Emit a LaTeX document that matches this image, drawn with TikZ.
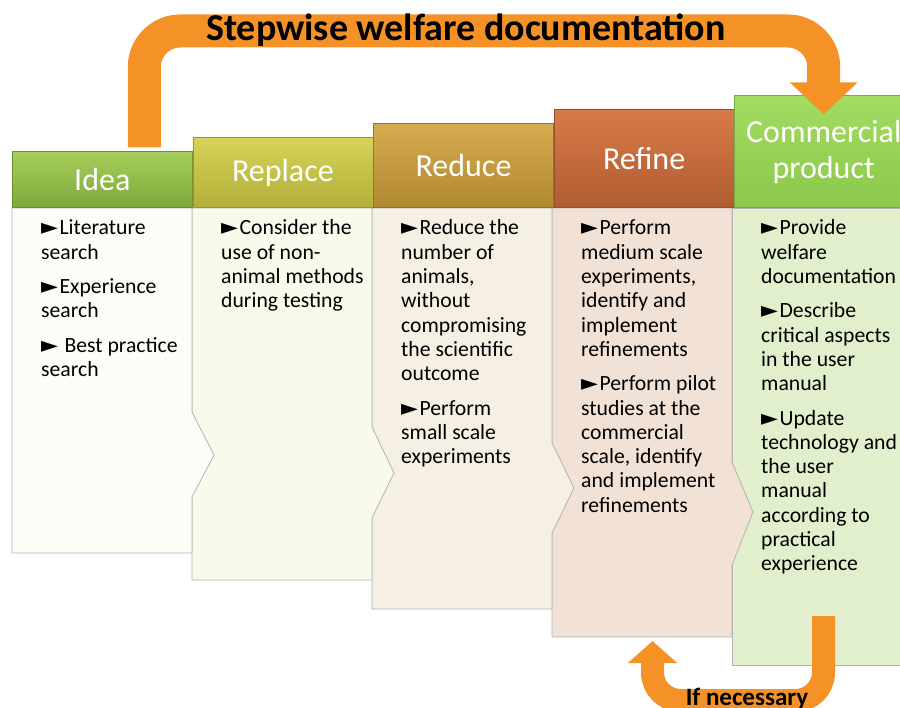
\documentclass[tikz,border=0pt]{standalone}
\usepackage{fontspec}
\setmainfont{Carlito}
\newfontfamily\symfont{DejaVu Sans}
\usepackage{tikz}
\usetikzlibrary{arrows.meta,positioning}
\definecolor{ideatop}{RGB}{166,206,92}
\definecolor{ideabot}{RGB}{124,168,58}
\definecolor{repltop}{RGB}{214,210,90}
\definecolor{replbot}{RGB}{178,176,56}
\definecolor{redutop}{RGB}{214,172,80}
\definecolor{redubot}{RGB}{176,136,48}
\definecolor{refitop}{RGB}{216,122,72}
\definecolor{refibot}{RGB}{176,92,50}
\definecolor{commtop}{RGB}{162,220,98}
\definecolor{commbot}{RGB}{140,200,76}
\definecolor{ideabody}{RGB}{252,253,246}
\definecolor{replbody}{RGB}{249,250,236}
\definecolor{redubody}{RGB}{246,240,228}
\definecolor{refibody}{RGB}{242,226,214}
\definecolor{commbody}{RGB}{226,239,204}
\definecolor{arroworange}{RGB}{244,146,40}
\newcommand{\bul}{{\symfont\fontsize{22}{22}\selectfont ►}\kern1.5pt}
\tikzset{
  hdr/.style={rectangle, inner sep=0pt, minimum width=180pt, anchor=south west,
    text=white, line width=0.6pt, font=\fontsize{32}{36}\selectfont},
  bodybox/.style={draw=black!30, line width=0.8pt},
  bodytext/.style={anchor=base west, inner sep=0pt, font=\fontsize{21.7}{24.3}\selectfont},
  band/.style={draw=arroworange, line width=33pt, rounded corners=36pt,
    -{Triangle[width=66pt,length=32pt]}},
  bandlabel/.style={anchor=base, inner sep=0pt, font=\bfseries\fontsize{38}{40}\selectfont}
}
\begin{document}
\begin{tikzpicture}[x=1pt, y=-1pt]
  \useasboundingbox (0,0) rectangle (900,708);
  \draw[bodybox, fill=commbody] (732,208) -- (910,208) -- (910,665) -- (732,665) -- cycle;
  \draw[bodybox, fill=refibody] (552,208) -- (732,208) -- (732,462) -- (753,512) -- (732,565) -- (732,637) -- (552,637) -- cycle;
  \draw[bodybox, fill=redubody] (372,208) -- (552,208) -- (552,443) -- (574,488) -- (552,533) -- (552,609) -- (372,609) -- cycle;
  \draw[bodybox, fill=replbody] (192,208) -- (372,208) -- (372,427) -- (394,473) -- (372,518) -- (372,580) -- (192,580) -- cycle;
  \draw[bodybox, fill=ideabody] (12,208) -- (192,208) -- (192,412) -- (214,455) -- (192,497) -- (192,553) -- (12,553) -- cycle;
  \node[hdr, minimum height=56pt, top color=ideatop, bottom color=ideabot, draw=ideabot!85!black] (idea) at (12,208) {Idea};
  \node[hdr, minimum height=70pt, top color=repltop, bottom color=replbot, draw=replbot!85!black] (replace) at (idea.south east) {Replace};
  \node[hdr, minimum height=84pt, top color=redutop, bottom color=redubot, draw=redubot!85!black] (reduce) at (replace.south east) {Reduce};
  \node[hdr, minimum height=98pt, top color=refitop, bottom color=refibot, draw=refibot!85!black] (refine) at (reduce.south east) {Refine};
  \node[hdr, minimum height=112pt, minimum width=178pt, align=center, top color=commtop, bottom color=commbot, draw=commbot!85!black] (comm) at (refine.south east) {Commercial\\product};
  \node[bodytext] (ideatext) at (41,235) {\parbox[t]{170pt}{\bul Literature\\search\\[10pt]\bul Experience\\search\\[10pt]\bul\ Best practice\\search}};
  \node[bodytext] (repltext) at (221,235) {\parbox[t]{170pt}{\bul Consider the\\use of non-\\animal methods\\during testing}};
  \node[bodytext] (redutext) at (401,235) {\parbox[t]{170pt}{\bul Reduce the\\number of\\animals,\\without\\compromising\\the scientific\\outcome\\[10pt]\bul Perform\\small scale\\experiments}};
  \node[bodytext] (refitext) at (581,235) {\parbox[t]{170pt}{\bul Perform\\medium scale\\experiments,\\identify and\\implement\\refinements\\[10pt]\bul Perform pilot\\studies at the\\commercial\\scale, identify\\and implement\\refinements}};
  \node[bodytext] (commtext) at (761,235) {\parbox[t]{170pt}{\bul Provide\\welfare\\documentation\\[10pt]\bul Describe\\critical aspects\\in the user\\manual\\[10pt]\bul Update\\technology and\\the user\\manual\\according to\\practical\\experience}};
  \coordinate (docstart) at ([xshift=42pt, yshift=4pt]idea.north);
  \coordinate (doctip) at ([yshift=-19pt]comm.north);
  \draw[band] (docstart) -- (docstart |- 0,31) -- (doctip |- 0,31) -- (doctip);
  \coordinate (loopstart) at (823.5,616);
  \coordinate (looptip) at (652.5,641);
  \draw[band, line width=23pt, rounded corners=28pt, -{Triangle[width=48pt,length=22pt]}]
    (loopstart) -- (loopstart |- 0,700.5) -- (looptip |- 0,700.5) -- (looptip);
  \node[bandlabel] (doclabel) at (466,41) {Stepwise welfare documentation};
  \node[bandlabel, font=\bfseries\fontsize{25}{28}\selectfont] (looplabel) at (747,705) {If necessary};
\end{tikzpicture}
\end{document}
